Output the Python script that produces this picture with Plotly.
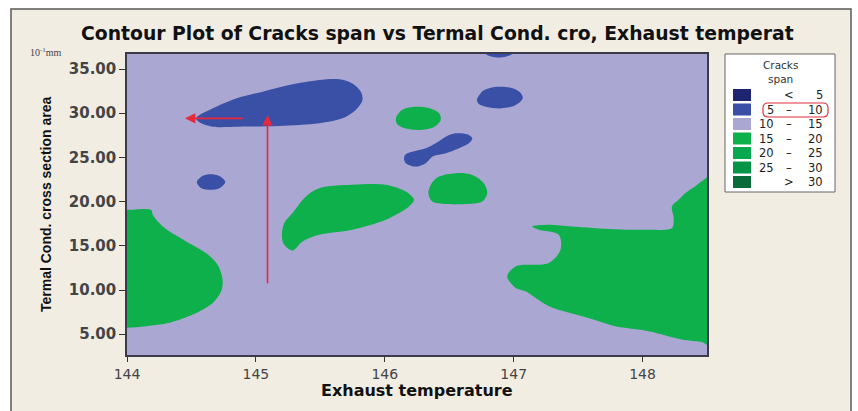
import plotly.graph_objects as go

# ---------------- data ----------------
# Contour-region outlines in data units: x = Exhaust temperature,
# y = Termal Cond. cross section area (10^-1 mm)

# 5 - 10 band regions
blue_big_x = [144.536, 144.665, 144.846, 145.052, 145.259, 145.491, 145.646, 145.749, 145.814,
              145.827, 145.775, 145.672, 145.491, 145.181, 144.871, 144.665, 144.575]
blue_big_y = [29.42, 30.55, 31.68, 32.43, 33.18, 33.75, 33.83, 33.37, 32.43,
              31.49, 30.37, 29.42, 28.86, 28.55, 28.47, 28.47, 28.86]

blue_small_x = [144.542, 144.585, 144.647, 144.717, 144.763, 144.717, 144.647, 144.577]
blue_small_y = [22.24, 22.91, 23.10, 22.91, 22.24, 21.50, 21.33, 21.50]

blue_top_x = [146.761, 146.785, 146.831, 146.885, 146.939, 146.986, 147.009]
blue_top_y = [37.13, 36.68, 36.40, 36.31, 36.40, 36.68, 37.13]

blue_upper_x = [146.715, 146.761, 146.854, 146.970, 147.047, 147.071, 147.017, 146.908, 146.792, 146.730]
blue_upper_y = [31.49, 32.51, 32.96, 32.90, 32.39, 31.72, 30.93, 30.55, 30.70, 31.04]

blue_long_x = [146.149, 146.163, 146.240, 146.318, 146.369, 146.473, 146.576, 146.653,
               146.679, 146.640, 146.550, 146.473, 146.395, 146.318, 146.214, 146.163]
blue_long_y = [24.91, 24.35, 23.96, 24.35, 25.09, 25.47, 26.04, 26.60,
               27.17, 27.62, 27.73, 27.35, 26.60, 26.04, 25.65, 25.36]

# 15 - 20 band regions
green_small_x = [146.087, 146.133, 146.226, 146.342, 146.420, 146.434, 146.382, 146.264, 146.149, 146.095]
green_small_y = [29.46, 30.37, 30.73, 30.59, 30.03, 29.24, 28.45, 28.11, 28.33, 28.79]

green_mid_x = [146.421, 146.550, 146.679, 146.769, 146.795, 146.756, 146.627, 146.473,
               146.369, 146.338, 146.364]
green_mid_y = [22.83, 23.22, 23.02, 22.09, 20.96, 20.01, 19.72, 19.72,
               20.01, 20.96, 22.09]

green_center_x = [145.388, 145.491, 145.749, 146.008, 146.163, 146.227, 146.188, 146.008,
                  145.749, 145.491, 145.362, 145.284, 145.220, 145.202, 145.220, 145.284]
green_center_y = [20.58, 21.52, 21.90, 21.90, 21.14, 20.20, 19.45, 17.95,
                  16.82, 16.25, 15.50, 14.48, 15.12, 16.06, 17.57, 18.70]

green_left_x = [143.90, 143.998, 144.187, 144.200, 144.277, 144.459, 144.613, 144.703,
                144.742, 144.730, 144.665, 144.510, 144.329, 144.149, 143.998, 143.90]
green_left_y = [19.07, 19.07, 19.07, 18.51, 17.19, 15.50, 14.19, 12.87,
                11.17, 9.85, 8.54, 7.22, 6.29, 5.90, 5.72, 5.72]

green_right_x = [147.143, 147.273, 147.451, 147.789, 148.047, 148.228, 148.241, 148.228,
                 148.280, 148.331, 148.411, 148.473, 148.56, 148.56, 148.473, 148.305,
                 148.047, 147.789, 147.660, 147.531, 147.273, 147.092, 147.015, 146.950,
                 147.015, 147.273, 147.363, 147.350, 147.195]
green_right_y = [17.19, 17.38, 17.19, 16.87, 16.82, 17.01, 18.17, 19.45,
                 20.20, 20.96, 21.78, 22.46, 23.10, 3.20, 4.03, 4.40,
                 5.34, 5.90, 6.47, 7.03, 8.16, 9.85, 10.24, 11.55,
                 12.67, 13.06, 14.56, 16.25, 16.82]

levels = [5, 10, 15, 20, 25, 30]
band_colors = ['#1E2470', '#3A4FA6', '#AAA7D3', '#0EB04B', '#08A84E', '#079446', '#0A6A3A']
band_low = ['', '5', '10', '15', '20', '25', '']
band_sym = ['<', '–', '–', '–', '–', '–', '>']
band_high = ['5', '10', '15', '20', '25', '30', '30']

x_range = [144, 148.5]
y_range = [2.65, 36.7]
x_ticks = [144, 145, 146, 147, 148]
y_ticks = [5, 10, 15, 20, 25, 30, 35]

# red arrows (data units): head and tail
arrow_head_x = [144.45, 145.09]
arrow_head_y = [29.42, 29.8]
arrow_tail_x = [144.91, 145.09]
arrow_tail_y = [29.42, 10.6]

# ---------------- build ----------------
regions = [
    (blue_big_x, blue_big_y, 1), (blue_small_x, blue_small_y, 1), (blue_top_x, blue_top_y, 1),
    (blue_upper_x, blue_upper_y, 1), (blue_long_x, blue_long_y, 1),
    (green_small_x, green_small_y, 3), (green_mid_x, green_mid_y, 3),
    (green_center_x, green_center_y, 3), (green_left_x, green_left_y, 3),
    (green_right_x, green_right_y, 3),
]

fig = go.Figure()
# 10 - 15 band covers the remaining field
fig.add_trace(go.Scatter(
    x=[x_range[0], x_range[1], x_range[1], x_range[0], x_range[0]],
    y=[y_range[0], y_range[0], y_range[1], y_range[1], y_range[0]],
    mode='lines', fill='toself', fillcolor=band_colors[2],
    line=dict(width=0, color=band_colors[2]), hoverinfo='skip', showlegend=False))
for rx, ry, band in regions:
    fig.add_trace(go.Scatter(
        x=rx + rx[:1], y=ry + ry[:1], mode='lines', fill='toself',
        fillcolor=band_colors[band],
        line=dict(width=0, shape='spline', smoothing=0.9, color=band_colors[band]),
        hoverinfo='skip', showlegend=False,
    ))

W, H = 858, 411
L, R, T, B = 127, 151, 54, 56
PW = W - L - R
PH = H - T - B


def px(x):
    return (x - L) / PW


def py(y):
    return (H - B - y) / PH


shapes = []
annotations = []

# outer panel
shapes.append(dict(type='rect', xref='paper', yref='paper',
                   x0=px(11), x1=px(851), y0=py(440), y1=py(9),
                   fillcolor='#F1EDE3', line=dict(color='#5a5a5a', width=1.5), layer='below'))

# legend box
shapes.append(dict(type='rect', xref='paper', yref='paper',
                   x0=px(725), x1=px(835), y0=py(192), y1=py(54),
                   fillcolor='white', line=dict(color='#666666', width=1)))
annotations.append(dict(xref='paper', yref='paper', x=px(780), y=py(65), text='Cracks',
                        showarrow=False, xanchor='center', yanchor='middle',
                        font=dict(family='DejaVu Sans', size=10.5, color='#333')))
annotations.append(dict(xref='paper', yref='paper', x=px(780), y=py(79), text='span',
                        showarrow=False, xanchor='center', yanchor='middle',
                        font=dict(family='DejaVu Sans', size=10.5, color='#333')))
leg_font = dict(family='DejaVu Sans', size=11.5, color='#222')
for k, c in enumerate(band_colors):
    yc = 95 + 14.5 * k
    shapes.append(dict(type='rect', xref='paper', yref='paper',
                       x0=px(733), x1=px(751), y0=py(yc + 6), y1=py(yc - 6),
                       fillcolor=c, line=dict(width=0)))
    if band_low[k]:
        annotations.append(dict(xref='paper', yref='paper', x=px(776), y=py(yc), text=band_low[k],
                                showarrow=False, xanchor='right', yanchor='middle', font=leg_font))
    annotations.append(dict(xref='paper', yref='paper', x=px(789), y=py(yc), text=band_sym[k],
                            showarrow=False, xanchor='center', yanchor='middle', font=leg_font))
    annotations.append(dict(xref='paper', yref='paper', x=px(825), y=py(yc), text=band_high[k],
                            showarrow=False, xanchor='right', yanchor='middle', font=leg_font))

# red rounded highlight around "5 - 10"
x0r, x1r, y0r, y1r, rr = 763, 828, 103, 117, 5
pth = (f"M {px(x0r + rr)} {py(y0r)} L {px(x1r - rr)} {py(y0r)} "
       f"Q {px(x1r)} {py(y0r)} {px(x1r)} {py(y0r + rr)} L {px(x1r)} {py(y1r - rr)} "
       f"Q {px(x1r)} {py(y1r)} {px(x1r - rr)} {py(y1r)} L {px(x0r + rr)} {py(y1r)} "
       f"Q {px(x0r)} {py(y1r)} {px(x0r)} {py(y1r - rr)} L {px(x0r)} {py(y0r + rr)} "
       f"Q {px(x0r)} {py(y0r)} {px(x0r + rr)} {py(y0r)} Z")
shapes.append(dict(type='path', xref='paper', yref='paper', path=pth,
                   line=dict(color='#E0303C', width=1.2)))

# title & axis titles
annotations.append(dict(xref='paper', yref='paper', x=px(437), y=py(33),
                        text='Contour Plot of Cracks span vs Termal Cond. cro, Exhaust temperat',
                        showarrow=False, xanchor='center', yanchor='middle',
                        font=dict(family='DejaVu Sans', size=18.8, color='#111', weight='bold')))
annotations.append(dict(xref='paper', yref='paper', x=px(417), y=py(390),
                        text='Exhaust temperature', showarrow=False,
                        xanchor='center', yanchor='middle',
                        font=dict(family='DejaVu Sans', size=16, color='#111', weight='bold')))
annotations.append(dict(xref='paper', yref='paper', x=px(46), y=py(205),
                        text='Termal Cond. cross section area', showarrow=False, textangle=-90,
                        xanchor='center', yanchor='middle',
                        font=dict(family='Liberation Sans', size=14, color='#111', weight='bold')))
annotations.append(dict(xref='paper', yref='paper', x=px(46), y=py(52),
                        text='10<sup>-1</sup>mm', showarrow=False,
                        xanchor='center', yanchor='middle',
                        font=dict(family='Liberation Serif', size=10, color='#444')))

# red arrows
for hx, hy, tx, ty in zip(arrow_head_x, arrow_head_y, arrow_tail_x, arrow_tail_y):
    annotations.append(dict(x=hx, y=hy, ax=tx, ay=ty, xref='x', yref='y', axref='x', ayref='y',
                            text='', showarrow=True, arrowhead=2, arrowsize=1.3,
                            arrowwidth=1.6, arrowcolor='#E8283C', standoff=0))

fig.update_layout(
    width=W, height=H,
    margin=dict(l=L, r=R, t=T, b=B, pad=0),
    paper_bgcolor='white', plot_bgcolor=band_colors[2],
    showlegend=False,
    shapes=shapes, annotations=annotations,
)
fig.update_xaxes(range=x_range, tickvals=x_ticks, ticktext=[str(v) for v in x_ticks],
                 ticks='outside', ticklen=5, tickcolor='#333', showgrid=False, zeroline=False,
                 showline=True, linecolor='#3a3a4a', linewidth=1.5, mirror=True,
                 tickfont=dict(family='DejaVu Sans', size=14, color='#444'))
fig.update_yaxes(range=y_range, tickvals=y_ticks, ticktext=[f'{v:.2f}' for v in y_ticks],
                 ticks='outside', ticklen=6, tickcolor='#333', showgrid=False, zeroline=False,
                 showline=True, linecolor='#3a3a4a', linewidth=1.5, mirror=True,
                 tickfont=dict(family='DejaVu Sans', size=15, color='#444', weight='bold'))

fig.write_html('out.html')
